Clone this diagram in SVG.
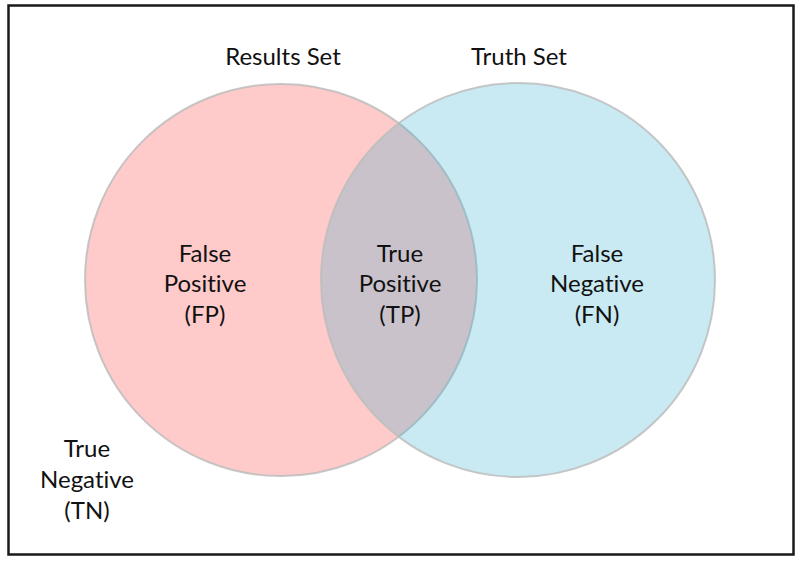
<svg xmlns="http://www.w3.org/2000/svg" width="800" height="564" viewBox="0 0 800 564">
<style>
text{font-family:"Lato","Open Sans","Liberation Sans",sans-serif;font-size:24px;fill:#111;text-anchor:middle;font-variant-ligatures:none}
.circ{stroke:#bdbdbd;stroke-width:2;stroke-opacity:0.85}
</style>
<rect x="0" y="0" width="800" height="564" fill="#fff"/>
<rect x="8.5" y="5.5" width="785" height="549" fill="none" stroke="#1a1a1a" stroke-width="2.5"/>
<g id="results-set">
<circle class="circ" cx="281" cy="280" r="196" fill="#ffcaca"/>
<text x="283" y="65">Results Set</text>
</g>
<g id="truth-set">
<circle class="circ" cx="518" cy="280" r="197" fill="rgb(47,174,205)" fill-opacity="0.26"/>
<text x="519" y="65">Truth Set</text>
</g>
<g id="fp">
<text x="205" y="262">False</text>
<text x="205" y="292">Positive</text>
<text x="205" y="323">(FP)</text>
</g>
<g id="tp">
<text x="400" y="262">True</text>
<text x="400" y="292">Positive</text>
<text x="400" y="323">(TP)</text>
</g>
<g id="fn">
<text x="597" y="262">False</text>
<text x="597" y="292">Negative</text>
<text x="597" y="323">(FN)</text>
</g>
<g id="tn">
<text x="87" y="457">True</text>
<text x="87" y="488">Negative</text>
<text x="87" y="519">(TN)</text>
</g>
</svg>
